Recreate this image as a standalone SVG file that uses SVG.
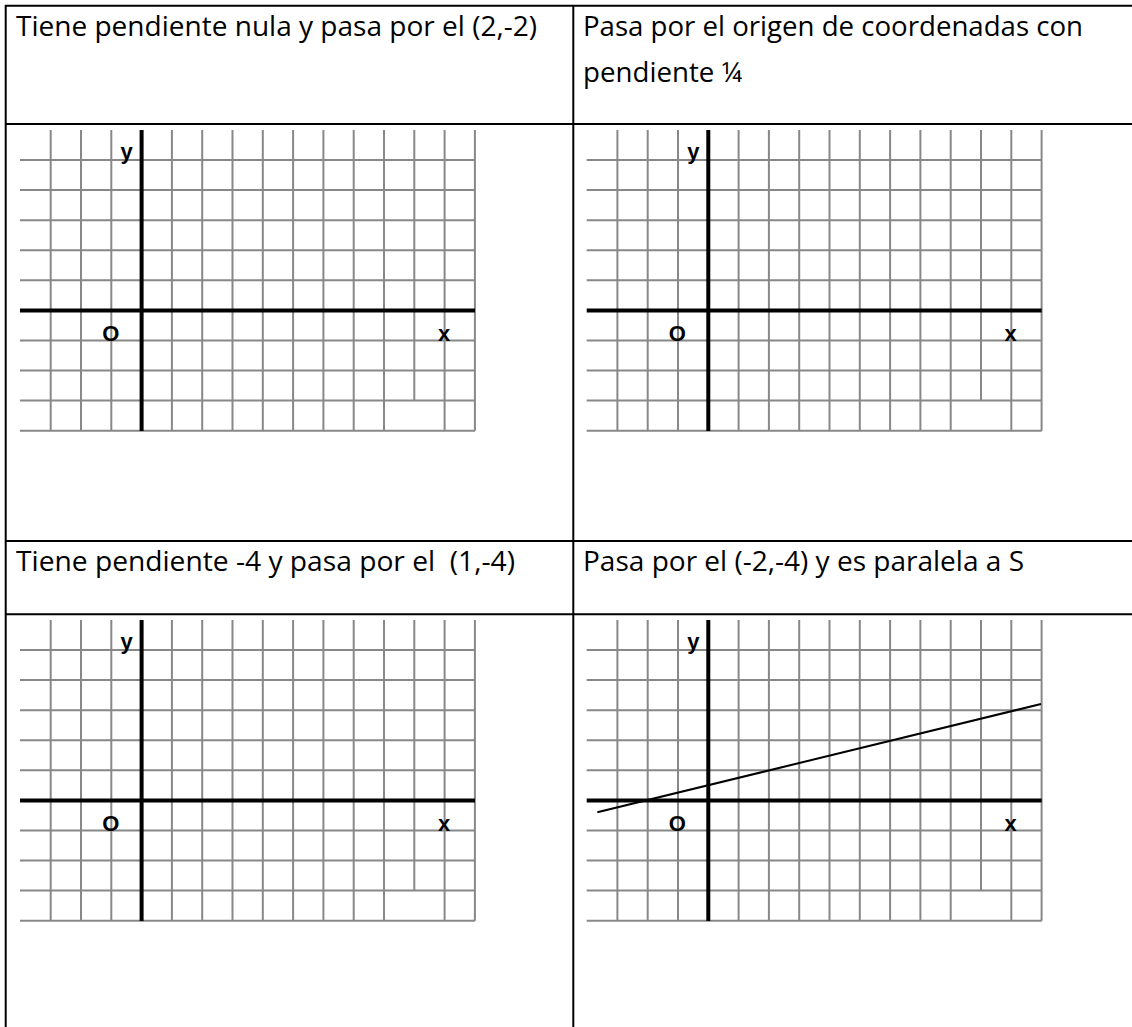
<svg xmlns="http://www.w3.org/2000/svg" xmlns:xlink="http://www.w3.org/1999/xlink" width="1132" height="1027" viewBox="0 0 1132 1027">
  <style>
    .tbl { stroke: #000; stroke-width: 2; fill: none; }
    .grid { stroke: #888; stroke-width: 2; fill: none; }
    .axis { stroke: #000; stroke-width: 4; fill: none; }
    .plot { stroke: #000; stroke-width: 2; fill: none; }
    .hdr { font-family: "Open Sans", "Noto Sans", sans-serif; font-size: 28px; fill: #000; }
    .lbl { font-family: "Liberation Sans", Arial, sans-serif; font-size: 22px; font-weight: bold; fill: #000; text-anchor: middle; }
  </style>
  <defs>
    <g id="gridlines">
      <path class="grid" d="M20,160H475 M20,190.1H475 M20,220.2H475 M20,250.2H475 M20,280.3H475 M20,340.5H475 M20,370.6H475 M20,400.6H475 M20,430.7H475
        M50.7,130V430.7 M81,130V430.7 M111.3,130V430.7 M171.9,130V430.7 M202.2,130V430.7 M232.5,130V430.7 M262.8,130V430.7 M293.1,130V430.7 M323.4,130V430.7 M353.7,130V430.7 M384,130V430.7 M414.3,130V400.6 M444.6,130V430.7 M474.9,130V430.7"/>
      <path class="axis" d="M141.6,130V431 M20,310.4H475"/>
    </g>
  </defs>

  <g id="table">
    <path class="tbl" d="M5,5.7H1132 M5,124H1132 M5,541H1132 M5,614.3H1132 M5.7,5V1027 M573.3,5V1027"/>
  </g>

  <g id="header1">
    <text class="hdr" x="16" y="35.7" textLength="521" lengthAdjust="spacingAndGlyphs">Tiene pendiente nula y pasa por el (2,-2)</text>
  </g>
  <g id="header2">
    <text class="hdr" x="583" y="35.7" textLength="500" lengthAdjust="spacingAndGlyphs">Pasa por el origen de coordenadas con</text>
    <text class="hdr" x="583" y="81.7" textLength="159" lengthAdjust="spacingAndGlyphs">pendiente ¼</text>
  </g>
  <g id="header3">
    <text class="hdr" x="16" y="571" textLength="499" lengthAdjust="spacingAndGlyphs" xml:space="preserve">Tiene pendiente -4 y pasa por el  (1,-4)</text>
  </g>
  <g id="header4">
    <text class="hdr" x="583" y="571" textLength="441" lengthAdjust="spacingAndGlyphs">Pasa por el (-2,-4) y es paralela a S</text>
  </g>

  <g id="panel1">
    <use xlink:href="#gridlines" href="#gridlines"/>
    <text class="lbl" x="126.7" y="158.5">y</text>
    <text class="lbl" x="110.7" y="340.5">O</text>
    <text class="lbl" x="444" y="340.5">x</text>
  </g>
  <g id="panel2" transform="translate(566.7,0)">
    <use xlink:href="#gridlines" href="#gridlines"/>
    <text class="lbl" x="126.7" y="158.5">y</text>
    <text class="lbl" x="110.7" y="340.5">O</text>
    <text class="lbl" x="444" y="340.5">x</text>
  </g>
  <g id="panel3" transform="translate(0,490)">
    <use xlink:href="#gridlines" href="#gridlines"/>
    <text class="lbl" x="126.7" y="158.5">y</text>
    <text class="lbl" x="110.7" y="340.5">O</text>
    <text class="lbl" x="444" y="340.5">x</text>
  </g>
  <g id="panel4" transform="translate(566.7,490)">
    <use xlink:href="#gridlines" href="#gridlines"/>
    <text class="lbl" x="126.7" y="158.5">y</text>
    <text class="lbl" x="110.7" y="340.5">O</text>
    <text class="lbl" x="444" y="340.5">x</text>
  </g>

  <g id="connectors">
    <line class="plot" x1="597.3" y1="812.3" x2="1041" y2="704"/>
  </g>
</svg>
